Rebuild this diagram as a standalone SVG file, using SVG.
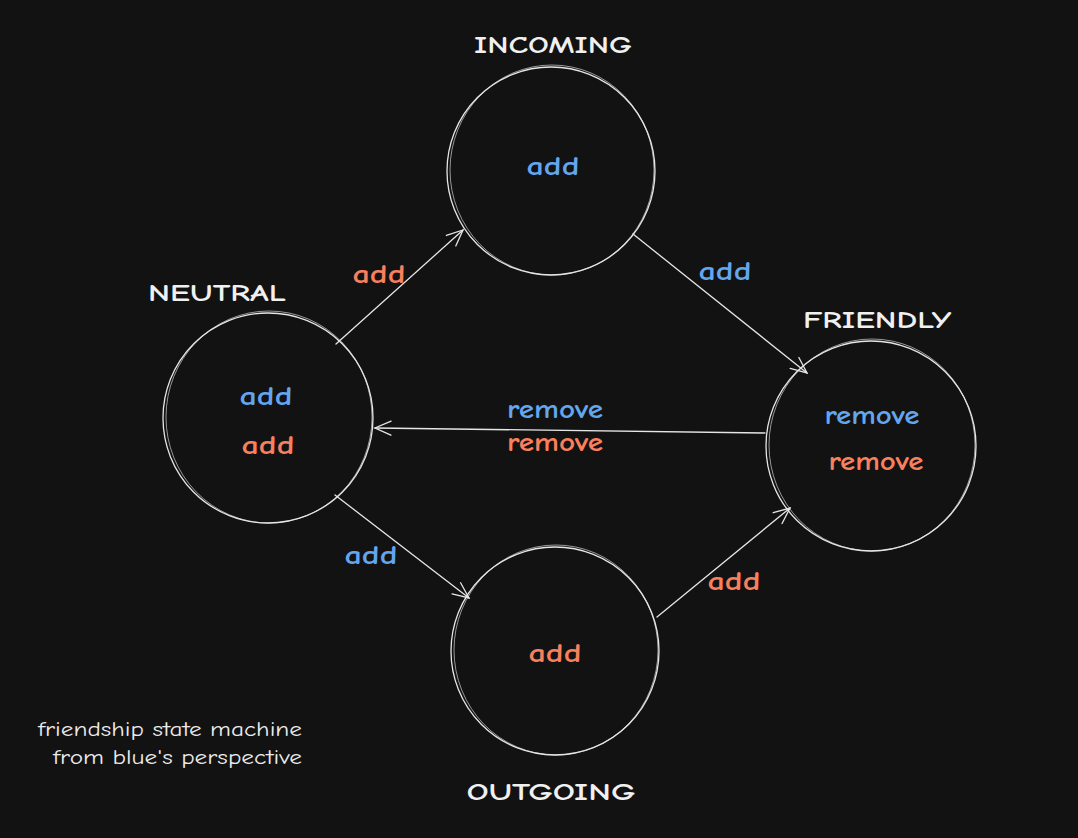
<svg xmlns="http://www.w3.org/2000/svg" width="1078" height="838" viewBox="0 0 1078 838">
<style>
.bg{fill:#121212}
.ring{fill:none;stroke:#e6e6e6;stroke-width:1.3}
.ring2{fill:none;stroke:#e6e6e6;stroke-width:0.9;opacity:0.7}
.edge{fill:none;stroke:#e6e6e6;stroke-width:1.3;stroke-linecap:round}
text{font-family:"Comic Neue","Liberation Sans","DejaVu Sans",sans-serif;text-anchor:middle}
.title{fill:#f0f0f0;font-size:25px;font-weight:bold}
.lbl{font-size:27px;font-weight:bold}
.b{fill:#64a6ee}
.o{fill:#f9805d}
.note{fill:#ececec;font-size:21px;text-anchor:start}
</style>
<defs>
<marker id="ah" viewBox="0 0 20 20" refX="18" refY="10" markerWidth="20" markerHeight="20" markerUnits="userSpaceOnUse" orient="auto">
<path d="M2,3 L18,10 L2,17" fill="none" stroke="#e6e6e6" stroke-width="1.3" stroke-linecap="round"/>
</marker>
</defs>
<rect class="bg" x="0" y="0" width="1078" height="838"/>
<g id="connectors">
<line class="edge" x1="336" y1="344" x2="463" y2="230" marker-end="url(#ah)"/>
<line class="edge" x1="633" y1="234" x2="807" y2="373" marker-end="url(#ah)"/>
<line class="edge" x1="765" y1="433" x2="375" y2="428" marker-end="url(#ah)"/>
<line class="edge" x1="335" y1="495" x2="469" y2="598" marker-end="url(#ah)"/>
<line class="edge" x1="657" y1="617" x2="790" y2="508" marker-end="url(#ah)"/>
<text class="lbl o" x="379" y="283" textLength="53" lengthAdjust="spacingAndGlyphs">add</text>
<text class="lbl b" x="725" y="280" textLength="53" lengthAdjust="spacingAndGlyphs">add</text>
<text class="lbl b" x="555" y="418" textLength="96" lengthAdjust="spacingAndGlyphs">remove</text>
<text class="lbl o" x="555" y="451" textLength="96" lengthAdjust="spacingAndGlyphs">remove</text>
<text class="lbl b" x="371" y="564" textLength="53" lengthAdjust="spacingAndGlyphs">add</text>
<text class="lbl o" x="734" y="590" textLength="53" lengthAdjust="spacingAndGlyphs">add</text>
</g>
<g id="incoming">
<circle class="ring" cx="551" cy="171" r="104"/>
<ellipse class="ring2" cx="552" cy="170" rx="102" ry="105"/>
<text class="title" x="553" y="53" textLength="158" lengthAdjust="spacingAndGlyphs">INCOMING</text>
<text class="lbl b" x="553" y="175" textLength="53" lengthAdjust="spacingAndGlyphs">add</text>
</g>
<g id="neutral">
<circle class="ring" cx="268" cy="418" r="105"/>
<ellipse class="ring2" cx="269" cy="417" rx="103" ry="106"/>
<text class="title" x="217" y="301" textLength="138" lengthAdjust="spacingAndGlyphs">NEUTRAL</text>
<text class="lbl b" x="266" y="405" textLength="53" lengthAdjust="spacingAndGlyphs">add</text>
<text class="lbl o" x="268" y="454" textLength="53" lengthAdjust="spacingAndGlyphs">add</text>
</g>
<g id="friendly">
<circle class="ring" cx="871" cy="446" r="105"/>
<ellipse class="ring2" cx="872" cy="445" rx="103" ry="106"/>
<text class="title" x="877" y="328" textLength="148" lengthAdjust="spacingAndGlyphs">FRIENDLY</text>
<text class="lbl b" x="872" y="424" textLength="95" lengthAdjust="spacingAndGlyphs">remove</text>
<text class="lbl o" x="876" y="470" textLength="95" lengthAdjust="spacingAndGlyphs">remove</text>
</g>
<g id="outgoing">
<circle class="ring" cx="555" cy="651" r="104"/>
<ellipse class="ring2" cx="556" cy="650" rx="102" ry="105"/>
<text class="title" x="551" y="800" textLength="169" lengthAdjust="spacingAndGlyphs">OUTGOING</text>
<text class="lbl o" x="555" y="662" textLength="53" lengthAdjust="spacingAndGlyphs">add</text>
</g>
<g id="note">
<text class="note" x="38" y="736" textLength="264" lengthAdjust="spacingAndGlyphs">friendship state machine</text>
<text class="note" x="53" y="764" textLength="249" lengthAdjust="spacingAndGlyphs">from blue's perspective</text>
</g>
</svg>
